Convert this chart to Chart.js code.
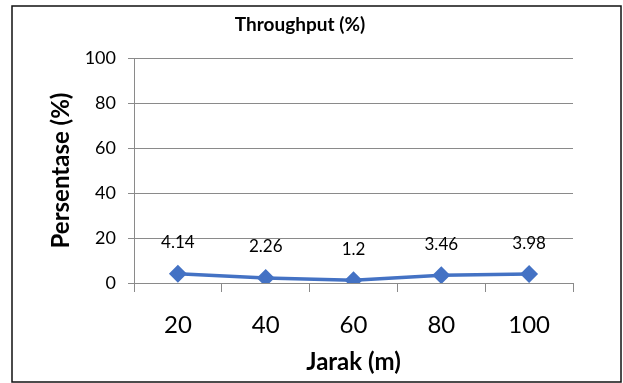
<!DOCTYPE html>
<html>
<head>
<meta charset="utf-8">
<script src="https://cdn.jsdelivr.net/npm/chart.js@4"></script>
<style>
  html, body { margin: 0; padding: 0; background: #fff; }
  #wrap { width: 623px; height: 383px; }
</style>
</head>
<body>
<div id="wrap"><canvas id="chart" width="623" height="383"></canvas></div>
<script>
// ——— data ———
const jarak = ["20", "40", "60", "80", "100"];
const throughput = [4.14, 2.26, 1.2, 3.46, 3.98];
const yTicks = [0, 20, 40, 60, 80, 100];

const FONT = "Lato, 'Noto Sans', sans-serif";
const gridGray = "#8a8a8a";
const lineBlue = "#4472C4";

// white background + outer frame
const framePlugin = {
  id: "frame",
  beforeDraw(chart) {
    const { ctx } = chart;
    ctx.save();
    ctx.fillStyle = "#fff";
    ctx.fillRect(0, 0, chart.width, chart.height);
    ctx.strokeStyle = "#111";
    ctx.lineWidth = 1.5;
    ctx.strokeRect(12, 6, 609, 376);
    ctx.restore();
  },
};

// value labels above each point
const valueLabels = {
  id: "valueLabels",
  afterDatasetsDraw(chart) {
    const { ctx } = chart;
    const meta = chart.getDatasetMeta(0);
    ctx.save();
    ctx.font = "17px " + FONT;
    ctx.fillStyle = "#000";
    ctx.textAlign = "center";
    ctx.textBaseline = "middle";
    meta.data.forEach((pt, i) => {
      ctx.fillText(String(throughput[i]), pt.x, pt.y - 31);
    });
    ctx.restore();
  },
};

new Chart(document.getElementById("chart"), {
  type: "line",
  data: {
    labels: jarak,
    datasets: [
      {
        data: throughput,
        borderColor: lineBlue,
        backgroundColor: lineBlue,
        borderWidth: 3.5,
        pointStyle: "rectRot",
        pointRadius: 6.5,
        pointHoverRadius: 6.5,
        tension: 0,
      },
    ],
  },
  options: {
    responsive: false,
    animation: false,
    layout: { padding: { left: 27, right: 50, top: 0, bottom: 0 } },
    plugins: {
      legend: { display: false },
      tooltip: { enabled: false },
      title: {
        display: true,
        text: "Throughput (%)",
        color: "#000",
        font: { family: FONT, size: 19, weight: "bold" },
        padding: { top: 13.5, bottom: 21.7 },
      },
    },
    scales: {
      x: {
        offset: true,
        grid: {
          offset: true,
          drawOnChartArea: false,
          drawTicks: true,
          tickLength: 9,
          color: gridGray,
        },
        border: { display: true, color: gridGray },
        ticks: {
          color: "#000",
          padding: 19,
          font: { family: FONT, size: 24 },
        },
        title: {
          display: true,
          text: "Jarak (m)",
          color: "#000",
          font: { family: FONT, size: 24, weight: "bold" },
          padding: { top: 0, bottom: 6 },
        },
        afterFit(scale) {
          scale.height = 100;
        },
      },
      y: {
        min: 0,
        max: 100,
        afterBuildTicks(scale) {
          scale.ticks = yTicks.map((v) => ({ value: v }));
        },
        grid: {
          color: gridGray,
          drawTicks: true,
          tickLength: 6,
        },
        border: { display: true, color: gridGray },
        ticks: {
          color: "#000",
          padding: 12,
          font: { family: FONT, size: 18 },
        },
        title: {
          display: true,
          text: "Persentase (%)",
          color: "#000",
          font: { family: FONT, size: 24, weight: "bold" },
          padding: { top: 20, bottom: 0 },
        },
        afterFit(scale) {
          scale.width = 107;
        },
      },
    },
  },
  plugins: [framePlugin, valueLabels],
});
</script>
</body>
</html>
